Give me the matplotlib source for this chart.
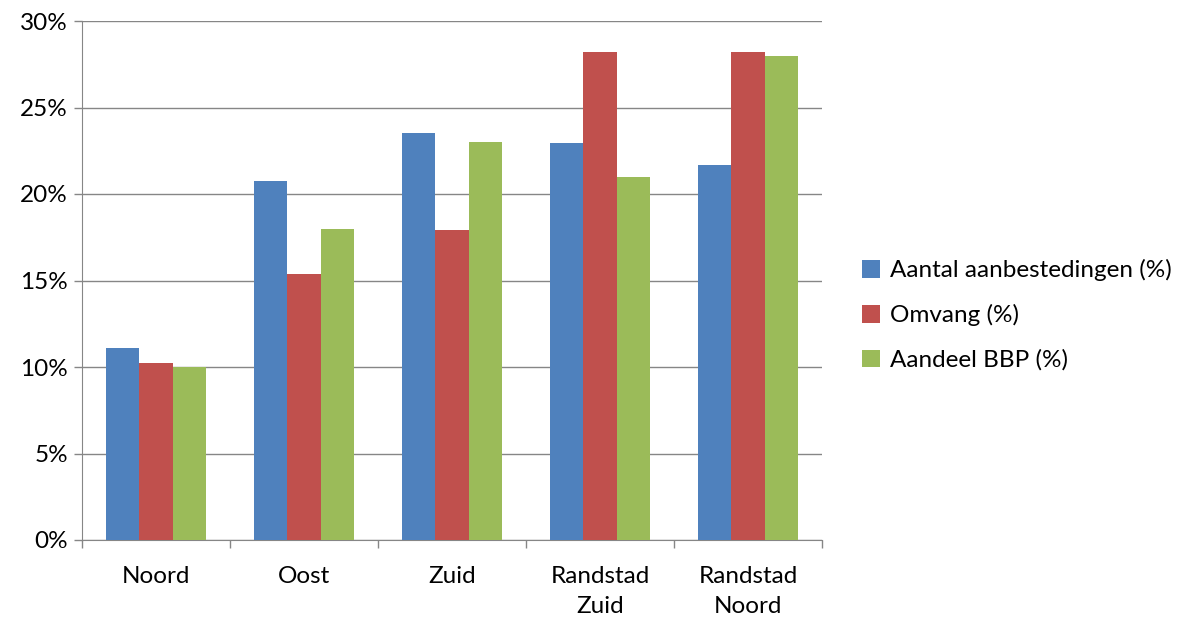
import numpy as np
import matplotlib
matplotlib.use("Agg")
import matplotlib.pyplot as plt
from matplotlib.ticker import FuncFormatter, FixedLocator

plt.rcParams["font.family"] = ["Lato", "DejaVu Sans"]

categories = ["Noord", "Oost", "Zuid", "Randstad\nZuid", "Randstad\nNoord"]
aantal = [11.1, 20.75, 23.55, 22.95, 21.65]
omvang = [10.25, 15.35, 17.9, 28.2, 28.2]
aandeel = [10.0, 18.0, 23.0, 21.0, 28.0]
series_labels = ["Aantal aanbestedingen (%)", "Omvang (%)", "Aandeel BBP (%)"]
colors = ["#4F81BD", "#C0504D", "#9BBB59"]

fig = plt.figure(figsize=(11.88, 6.21), dpi=100)
ax = fig.add_axes([82 / 1188, 1 - 540 / 621, 740 / 1188, 519 / 621])

x = np.arange(len(categories))
w = 0.223
for i, (vals, lab, c) in enumerate(zip([aantal, omvang, aandeel], series_labels, colors)):
    ax.bar(x + (i - 1) * w, vals, w, color=c, label=lab, zorder=3)

ax.set_xlim(-0.5, len(categories) - 0.5)
ax.set_ylim(0, 30)
ax.set_yticks(np.arange(0, 31, 5))
ax.yaxis.set_major_formatter(FuncFormatter(lambda v, p: f"{v:.0f}%"))
ax.grid(axis="y", color="#868686", linewidth=1, zorder=0)

ax.set_xticks(x)
ax.set_xticklabels(categories, fontsize=17.5, linespacing=1.5)
ax.tick_params(axis="x", length=0, pad=19)
ax.xaxis.set_minor_locator(FixedLocator(np.arange(-0.5, len(categories), 1)))
ax.tick_params(axis="x", which="minor", length=6, color="#868686", width=1)
ax.tick_params(axis="y", labelsize=17.5, length=6, color="#868686", width=1, pad=4)

for s in ["top", "right"]:
    ax.spines[s].set_visible(False)
for s in ["left", "bottom"]:
    ax.spines[s].set_color("#868686")

fig.legend(loc="center left", bbox_to_anchor=(862 / 1188, 1 - 315 / 621), frameon=False,
           fontsize=17.5, handlelength=0.75, handleheight=0.75, handletextpad=0.4,
           labelspacing=0.95, borderaxespad=0, borderpad=0)

fig.savefig("out.png", dpi=100)
